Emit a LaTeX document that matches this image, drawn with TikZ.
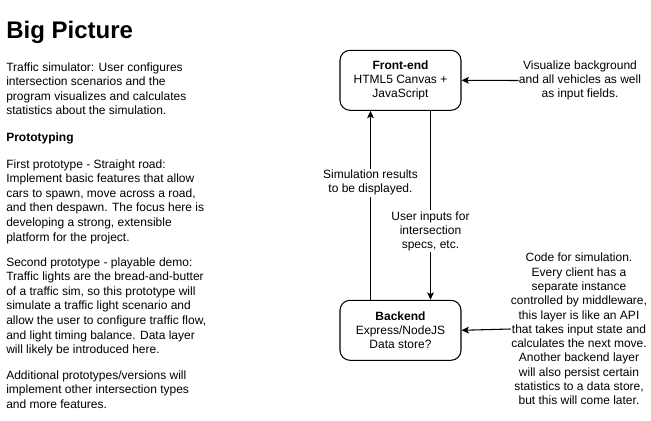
\documentclass[tikz,border=0pt]{standalone}
\usepackage{fontspec}
\setmainfont{Liberation Sans}
\usetikzlibrary{arrows.meta}
\begin{document}
\begin{tikzpicture}[x=0.75pt,y=-0.75pt,
  body/.style={font=\fontsize{9}{10.95}\selectfont, inner sep=0pt, align=left, anchor=base west},
  note/.style={font=\fontsize{9}{10.7}\selectfont, inner sep=0pt, align=center},
  lbl/.style={font=\fontsize{9}{10.5}\selectfont, inner sep=1pt, align=center, fill=white},
  box/.style={draw, line width=0.8pt, rounded corners=7.5pt, minimum width=90.75pt, minimum height=45pt,
    align=center, font=\fontsize{9}{10.5}\selectfont, inner sep=0pt},
  arr/.style={line width=0.8pt, -{Stealth[length=5.5pt,width=5pt,inset=1.2pt]}}
]
\useasboundingbox (0,0) rectangle (651,421);

\node[anchor=base west, inner sep=0pt, font=\fontsize{18}{20}\selectfont\bfseries] (title) at (6,38) {Big Picture};

% base anchor = baseline of last line
\node[body] (p1) at (6,114.8) {Traffic simulator: User configures\\intersection scenarios and the\\program visualizes and calculates\\statistics about the simulation.};
\node[body, font=\fontsize{9}{10.95}\selectfont\bfseries] (proto) at (6,141) {Prototyping};
\node[body] (p2) at (6,241) {First prototype - Straight road:\\Implement basic features that allow\\cars to spawn, move across a road,\\and then despawn. The focus here is\\developing a strong, extensible\\platform for the project.};
\node[body] (p3) at (6,353.6) {Second prototype - playable demo:\\Traffic lights are the bread-and-butter\\of a traffic sim, so this prototype will\\simulate a traffic light scenario and\\allow the user to configure traffic flow,\\and light timing balance. Data layer\\will likely be introduced here.};
\node[body] (p4) at (6,408.2) {Additional prototypes/versions will\\implement other intersection types\\and more features.};

\node[box] (fe) at (400.5,80.3) {\textbf{Front-end}\\HTML5 Canvas +\\JavaScript};
\node[box] (be) at (400.5,330.3) {\textbf{Backend}\\Express/NodeJS\\Data store?};

\node[note] (fenote) at (580,80.5) {Visualize background\\and all vehicles as well\\as input fields.};
\node[note] (benote) at (579,329) {Code for simulation.\\Every client has a\\separate instance\\controlled by middleware,\\this layer is like an API\\that takes input state and\\calculates the next move.\\Another backend layer\\will also persist certain\\statistics to a data store,\\but this will come later.};

\draw[arr] (fenote.west) -- (fe.east);
\draw[arr] (benote.west) -- (be.east);

\draw[arr] ([xshift=-22.5pt]be.north) -- node[lbl, pos=0.62] (simres) {Simulation results\\to be displayed.} ([xshift=-22.5pt]fe.south);
\draw[arr] ([xshift=22.5pt]fe.south) -- node[lbl, pos=0.637] (userin) {User inputs for\\intersection\\specs, etc.} ([xshift=22.5pt]be.north);
\end{tikzpicture}
\end{document}
